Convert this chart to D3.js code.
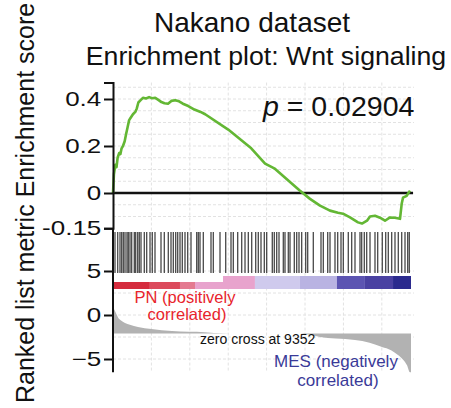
<!DOCTYPE html>
<html>
<head>
<meta charset="utf-8">
<script src="https://cdn.jsdelivr.net/npm/d3@7"></script>
<style>
body { margin: 0; background: #fff; }
svg text { font-family: "Liberation Sans", Arial, sans-serif; }
.tick text { font-family: "Liberation Sans", Arial, sans-serif; font-size: 20px; fill: #111; }
</style>
</head>
<body>
<svg id="chart"></svg>
<script>
const width = 451;
const height = 408;

// running enrichment score (gene rank, score)
const esRank = [0, 60, 150, 230, 300, 400, 480, 560, 650, 760, 850, 950, 1050, 1150, 1300, 1450, 1550, 1650, 1800, 1950,
  2150, 2350, 2550, 2750, 2950, 3150, 3350, 3580, 3800, 4050, 4300, 4550, 4900, 5300, 5700, 6000, 7500, 9000, 9900,
  10500, 12174, 12825, 13476, 14127, 14648, 14973, 15429, 15950, 16210, 16535, 16731, 17056, 17382, 17707, 18033,
  18358, 18684, 18794, 18879, 19120, 19335];
const esValue = [0.0, 0.08, 0.12, 0.11, 0.15, 0.17, 0.165, 0.19, 0.2, 0.22, 0.25, 0.28, 0.31, 0.32, 0.335, 0.345, 0.36,
  0.385, 0.395, 0.405, 0.402, 0.408, 0.403, 0.405, 0.396, 0.387, 0.382, 0.38, 0.392, 0.395, 0.39, 0.38, 0.37, 0.355,
  0.345, 0.335, 0.27, 0.19, 0.125, 0.105, 0.01, -0.025, -0.054, -0.075, -0.084, -0.088, -0.104, -0.125, -0.13, -0.118,
  -0.1, -0.097, -0.105, -0.118, -0.104, -0.105, -0.11, -0.046, -0.02, -0.012, 0.01];

// positions of the gene set members in the ranked list
const hitRanks = [130, 306, 456, 566, 671, 781, 911, 996, 1107, 1217, 1387, 1478, 1608, 1712, 1823, 2038, 2194, 2409,
  2558, 2734, 3125, 3340, 3600, 3776, 3926, 4082, 4212, 4362, 4511, 4687, 4863, 5078, 5449, 5553, 5664, 5879, 6380,
  6530, 6966, 7337, 7682, 7832, 8118, 8379, 8594, 8809, 9030, 9290, 9459, 9635, 9850, 10006, 10370, 10501, 10657,
  10807, 11087, 11197, 11412, 11523, 11803, 11959, 12109, 12284, 12545, 12675, 13040, 13541, 13691, 13977, 14127,
  14452, 14628, 14843, 14993, 15318, 15539, 15754, 16080, 16190, 16360, 16516, 16731, 17056, 17232, 17531, 17753,
  17922, 18143, 18358, 18573, 18795, 19010, 19185, 19289];

// ranked list metric
const metricRank = [0, 60, 130, 250, 345, 500, 781, 1100, 1628, 2500, 3841, 5989, 7161, 8000, 12044, 12800, 13476,
  14500, 15754, 16700, 17512, 18100, 18554, 18900, 19140, 19335, 19400];
const metricValue = [1.1, 0.7, 0.45, 0.0, -0.35, -0.6, -0.9, -1.12, -1.36, -1.6, -1.82, -1.95, -2.08, -2.1, -2.1,
  -2.25, -2.5, -2.68, -2.84, -3.15, -3.64, -4.0, -4.55, -5.1, -5.7, -6.5, -6.5];
const metricBase = -2.1;

// colour bar blocks along the ranking
const blockStart = [0, 2400, 4360, 5340, 9240, 12170, 14580, 16400, 18230];
const blockEnd = [2400, 4360, 5340, 9240, 12170, 14580, 16400, 18230, 19400];
const blockColors = ['#d52c3e', '#dc4a5c', '#e47a90', '#e8a3cd', '#cfcaed', '#b9b3e2', '#5c54b2', '#4a41a2', '#2b2a8e'];

const esTicks = [0.4, 0.2, 0, -0.15];
const rankTicks = [5, 0, -5];
const nGenes = 19400;
const zeroCross = 9352;

const svg = d3.select('#chart').attr('width', width).attr('height', height);

const x = d3.scaleLinear().domain([0, nGenes]).range([113, 411]);
const yEs = d3.scaleLinear().domain([-0.15, 0.47]).range([228.25, 82.55]);
const yRank = d3.scaleLinear().domain([-5, 5]).range([359, 271]);

// grid
const grid = svg.append('g').attr('stroke', '#e2e2e2').attr('stroke-dasharray', '3,2');
grid.selectAll('.vg').data(d3.range(2500, nGenes, 2500)).enter().append('line')
  .attr('x1', d => x(d)).attr('x2', d => x(d))
  .attr('y1', yEs(0.47)).attr('y2', yRank(-6.5));
grid.selectAll('.hg').data(d3.range(-0.1, 0.46, 0.05)).enter().append('line')
  .attr('x1', x(0)).attr('x2', 414)
  .attr('y1', d => yEs(d)).attr('y2', d => yEs(d));
grid.selectAll('.hr').data([5, 2.5, 0, -2.5, -5]).enter().append('line')
  .attr('x1', x(0)).attr('x2', 414)
  .attr('y1', d => yRank(d)).attr('y2', d => yRank(d));

// ranked metric
const area = d3.area()
  .x((d, i) => x(metricRank[i]))
  .y0(yRank(metricBase))
  .y1(d => yRank(d))
  .curve(d3.curveMonotoneX);
svg.append('path').datum(metricValue).attr('d', area).attr('fill', '#b2b2b2');

// colour bar
svg.selectAll('.block').data(blockStart).enter().append('rect')
  .attr('x', d => x(d))
  .attr('width', (d, i) => x(blockEnd[i]) - x(d))
  .attr('y', 276).attr('height', 13)
  .attr('fill', (d, i) => blockColors[i]);

// hits
svg.selectAll('.hit').data(hitRanks).enter().append('line')
  .attr('x1', d => x(d)).attr('x2', d => x(d))
  .attr('y1', 232).attr('y2', 273)
  .attr('stroke', '#1a1a1a').attr('stroke-opacity', 0.8).attr('stroke-width', 1.3);

// label box over the bar
svg.append('rect').attr('x', x(0)).attr('y', 273)
  .attr('width', x(7160) - x(0)).attr('height', 9).attr('fill', '#fff');

// zero line and ES curve
svg.append('line').attr('x1', x(0)).attr('x2', 413)
  .attr('y1', yEs(0)).attr('y2', yEs(0))
  .attr('stroke', '#111').attr('stroke-width', 2.5);

const line = d3.line()
  .x((d, i) => x(esRank[i]))
  .y(d => yEs(d));
svg.append('path').datum(esValue).attr('d', line)
  .attr('fill', 'none').attr('stroke', '#63b734').attr('stroke-width', 2.6)
  .attr('stroke-linejoin', 'round');

// axes
const esAxis = svg.append('g').attr('transform', `translate(${x(0)},0)`)
  .call(d3.axisLeft(yEs).tickValues(esTicks).tickSize(9).tickPadding(0)
    .tickFormat(d => d === 0 ? '0' : String(d)));
const rankAxis = svg.append('g').attr('transform', `translate(${x(0)},0)`)
  .call(d3.axisLeft(yRank).tickValues(rankTicks).tickSize(9).tickSizeOuter(0).tickPadding(0));
rankAxis.select('.domain').remove();
svg.append('line').attr('x1', x(0)).attr('x2', x(0))
  .attr('y1', yEs(-0.15)).attr('y2', yRank(-6.5))
  .attr('stroke', '#111').attr('stroke-width', 2);
svg.selectAll('.tick line, .domain').attr('stroke', '#111').attr('stroke-width', 2);
// tick labels in the reference are drawn wide
svg.selectAll('.tick text').attr('transform', 'scale(1.3,1)');

// titles
svg.append('text').attr('x', 252).attr('y', 32).attr('text-anchor', 'middle')
  .attr('font-size', 28).attr('fill', '#111').text('Nakano dataset');
svg.append('text').attr('x', 266).attr('y', 65).attr('text-anchor', 'middle')
  .attr('font-size', 26.7).attr('fill', '#111').text('Enrichment plot: Wnt signaling');

const pText = svg.append('text').attr('x', 263).attr('y', 116).attr('font-size', 28.5).attr('fill', '#111');
pText.append('tspan').attr('font-style', 'italic').text('p');
pText.append('tspan').text(' = 0.02904');

// y labels
const lab1 = svg.append('text').attr('transform', 'translate(34,403) rotate(-90)')
  .attr('font-size', 25).attr('fill', '#111').text('Ranked list metric');
const len1 = lab1.node().getComputedTextLength();
svg.append('text').attr('transform', `translate(34,${403 - len1 - 7}) rotate(-90)`)
  .attr('font-size', 25).attr('fill', '#111').text('Enrichment score');

// annotations
const pn = svg.append('text').attr('text-anchor', 'middle').attr('font-size', 16.5).attr('fill', '#e8242c');
pn.append('tspan').attr('x', 185).attr('y', 303).text('PN (positively');
pn.append('tspan').attr('x', 187).attr('y', 320).text('correlated)');

svg.append('text').attr('x', x(zeroCross) + 1).attr('y', 344).attr('text-anchor', 'middle')
  .attr('font-size', 14).attr('fill', '#111').text(`zero cross at ${zeroCross}`);

const mes = svg.append('text').attr('text-anchor', 'middle').attr('font-size', 17).attr('fill', '#3a3a98');
mes.append('tspan').attr('x', 336).attr('y', 367).text('MES (negatively');
mes.append('tspan').attr('x', 338).attr('y', 386).text('correlated)');
</script>
</body>
</html>
